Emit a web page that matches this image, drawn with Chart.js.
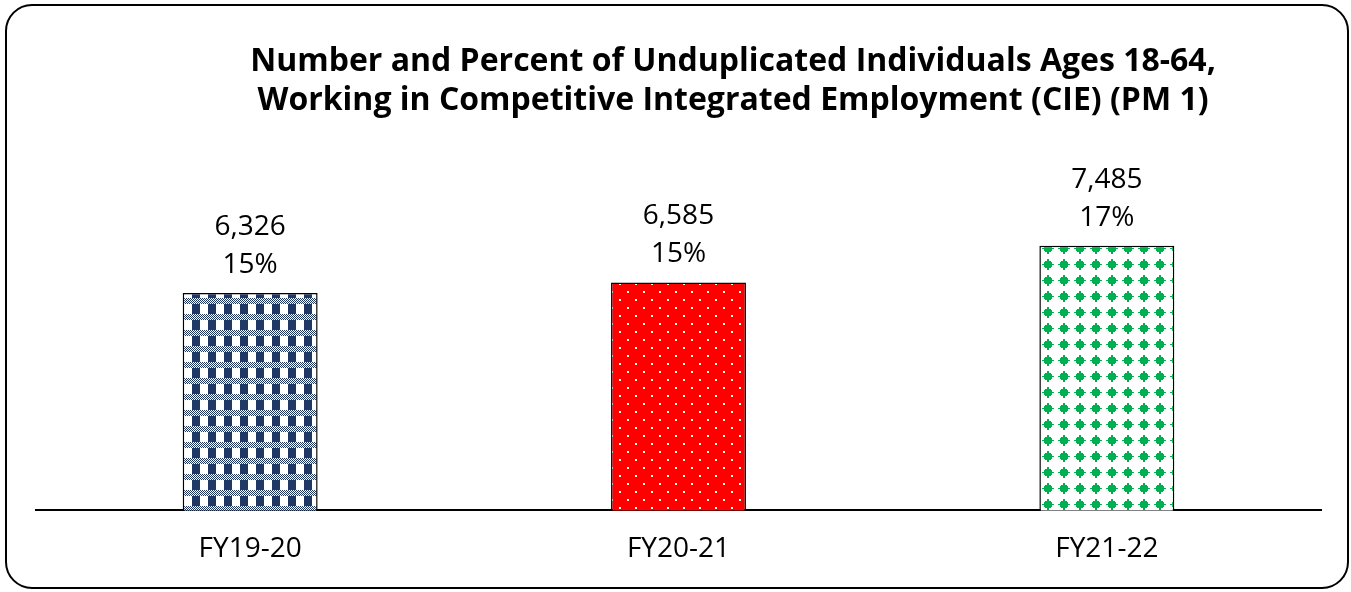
<!DOCTYPE html>
<html>
<head>
<meta charset="utf-8">
<title>PM 1 - CIE</title>
<script src="https://cdn.jsdelivr.net/npm/chart.js@4.4.1/dist/chart.umd.min.js"></script>
<style>
  html, body { margin: 0; padding: 0; background: #fff; }
  #wrap { width: 1351px; height: 592px; }
</style>
</head>
<body>
<div id="wrap"><canvas id="cieChart"></canvas></div>
<script>
// chart data
const categories = ['FY19-20', 'FY20-21', 'FY21-22'];
const individuals = [6326, 6585, 7485];
const percents = [15, 15, 17];
const titleLines = [
    'Number and Percent of Unduplicated Individuals Ages 18-64,',
    'Working in Competitive Integrated Employment (CIE) (PM 1)'
];

const FONT = '"Open Sans", "DejaVu Sans", sans-serif';

// ---- fill patterns (Excel style) ----
function makeTile(draw) {
    const c = document.createElement('canvas');
    c.width = 16;
    c.height = 16;
    const g = c.getContext('2d');
    draw(g);
    return g.createPattern(c, 'repeat');
}

const navyPlaid = makeTile(g => {
    g.fillStyle = '#ffffff';
    g.fillRect(0, 0, 16, 16);
    g.fillStyle = '#1f3864';
    g.fillRect(0, 0, 8, 10);
    for (let y = 10; y < 16; y++) {
        for (let x = 0; x < 16; x++) {
            if ((x + y) % 2 === 0) g.fillRect(x, y, 1, 1);
        }
    }
});

const redDots = makeTile(g => {
    g.fillStyle = '#ff0000';
    g.fillRect(0, 0, 16, 16);
    g.fillStyle = '#ffffff';
    g.fillRect(3, 3, 2, 2);
    g.fillRect(11, 11, 2, 2);
});

const greenDiamonds = makeTile(g => {
    g.fillStyle = '#ffffff';
    g.fillRect(0, 0, 16, 16);
    g.fillStyle = '#00b050';
    const widths = [2, 2, 6, 8, 8, 12, 8, 8, 6, 2, 2];
    widths.forEach((w, i) => {
        g.fillRect(8 - w / 2, 3 + i, w, 1);
    });
});

// ---- outer frame + title ----
const framePlugin = {
    id: 'frame',
    beforeDraw(chart) {
        const ctx = chart.ctx;
        ctx.save();
        ctx.fillStyle = '#fff';
        ctx.fillRect(0, 0, chart.width, chart.height);
        ctx.beginPath();
        ctx.roundRect(6, 5, 1342, 583, 26);
        ctx.lineWidth = 2;
        ctx.strokeStyle = '#000';
        ctx.stroke();

        ctx.fillStyle = '#000';
        ctx.font = 'bold 32px ' + FONT;
        ctx.textAlign = 'center';
        ctx.textBaseline = 'alphabetic';
        ctx.fillText(titleLines[0], 733, 71);
        ctx.fillText(titleLines[1], 733, 110);
        ctx.restore();
    }
};

// ---- two line labels above each bar ----
const barLabels = {
    id: 'barLabels',
    afterDatasetsDraw(chart) {
        const ctx = chart.ctx;
        const meta = chart.getDatasetMeta(0);
        ctx.save();
        ctx.fillStyle = '#000';
        ctx.font = '28px ' + FONT;
        ctx.textAlign = 'center';
        ctx.textBaseline = 'alphabetic';
        meta.data.forEach((bar, i) => {
            ctx.fillText(individuals[i].toLocaleString('en-US'), bar.x, bar.y - 58);
            ctx.fillText(percents[i] + '%', bar.x, bar.y - 20);
        });
        ctx.restore();
    }
};

const ctx = document.getElementById('cieChart').getContext('2d');

window.cieChart = new Chart(ctx, {
    type: 'bar',
    data: {
        labels: categories,
        datasets: [{
            label: 'Individuals in CIE',
            data: individuals,
            backgroundColor: [navyPlaid, redDots, greenDiamonds],
            borderColor: '#000',
            borderWidth: 1.5,
            borderSkipped: 'bottom',
            barPercentage: 0.315,
            categoryPercentage: 1
        }]
    },
    options: {
        responsive: true,
        maintainAspectRatio: false,
        animation: false,
        layout: {
            padding: { top: 143, left: 36, right: 30, bottom: 12 }
        },
        scales: {
            x: {
                grid: { display: false },
                border: { display: true, color: '#000', width: 2 },
                ticks: {
                    color: '#000',
                    padding: 14,
                    font: { family: FONT, size: 28 }
                }
            },
            y: {
                display: false,
                min: 1000,
                max: 10000
            }
        },
        plugins: {
            legend: { display: false },
            title: { display: false },
            tooltip: { enabled: false }
        }
    },
    plugins: [framePlugin, barLabels]
});
</script>
</body>
</html>
